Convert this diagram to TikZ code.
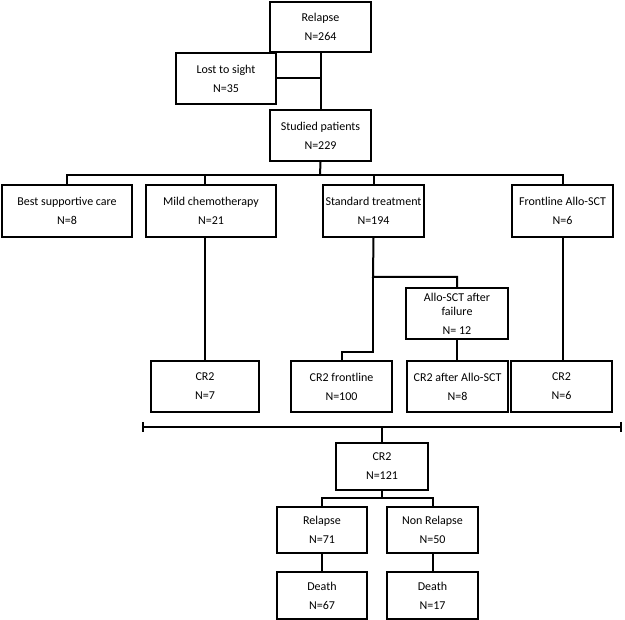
\documentclass[tikz,border=0pt]{standalone}
\usepackage{fontspec}
\setmainfont{Carlito}
\usetikzlibrary{arrows.meta}
\tikzset{
  box/.style={draw, line width=2pt, inner sep=0pt, align=center, font=\fontsize{12}{19}\selectfont},
  conn/.style={line width=2pt},
}
\begin{document}
\begin{tikzpicture}[x=1pt,y=-1pt]
\useasboundingbox (0,0) rectangle (625,620);
% level 0/1
\node[box, minimum width=101pt, minimum height=50pt] (relapse) at (320.5,27) {Relapse\\N=264};
\node[box, minimum width=100pt, minimum height=51pt] (lost) at (226,78.5) {Lost to sight\\N=35};
\node[box, minimum width=101pt, minimum height=51pt] (studied) at (320.5,135.5) {Studied patients\\N=229};
% level 2
\node[box, minimum width=130pt, minimum height=52pt] (bsc) at (67,211) {Best supportive care\\N=8};
\node[box, minimum width=130pt, minimum height=52pt] (mild) at (211,211) {Mild chemotherapy\\N=21};
\node[box, minimum width=101pt, minimum height=52pt] (std) at (373.5,211) {Standard treatment\\N=194};
\node[box, minimum width=101pt, minimum height=52pt] (front) at (562.5,211) {Frontline Allo-SCT\\N=6};
% level 3
\node[box, minimum width=102pt, minimum height=51pt] (allo) at (457,313.5) {Allo-SCT after\\[-5pt]failure\\N= 12};
\node[box, minimum width=108pt, minimum height=51pt] (cra) at (205,386.5) {CR2\\N=7};
\node[box, minimum width=101pt, minimum height=51pt] (crf) at (341.5,386.5) {CR2 frontline\\N=100};
\node[box, minimum width=101pt, minimum height=51pt] (crallo) at (457.5,386.5) {CR2 after Allo-SCT\\N=8};
\node[box, minimum width=101pt, minimum height=51pt] (crb) at (561.5,386.5) {CR2\\N=6};
% bottom
\node[box, minimum width=92pt, minimum height=47pt] (cr121) at (382,466.5) {CR2\\N=121};
\node[box, minimum width=90pt, minimum height=46pt] (rel71) at (322,530) {Relapse\\N=71};
\node[box, minimum width=91pt, minimum height=46pt] (nonrel) at (432.5,530) {Non Relapse\\N=50};
\node[box, minimum width=90pt, minimum height=47pt] (d67) at (322,595.5) {Death\\N=67};
\node[box, minimum width=91pt, minimum height=47pt] (d17) at (432.5,595.5) {Death\\N=17};
% connectors
\coordinate (b2) at (320,175);
\coordinate (s1) at (373,277);
\coordinate (s2) at (373,352);
\coordinate (bl) at (142,427);
\coordinate (br) at (622,427);
\coordinate (bm) at (382,427);
\coordinate (b5) at (382,498);
\draw[conn] (relapse.south) -- (studied.north);
\draw[conn] (lost.east) -- (lost.east -| relapse.south);
\draw[conn] (studied.south) -- (b2);
\draw[conn] (bsc.north) -- (bsc.north |- b2) -- (front.north |- b2) -- (front.north);
\draw[conn] ([xshift=-6pt]mild.north) -- ([xshift=-6pt]mild.north |- b2);
\draw[conn] (std.north) -- (std.north |- b2);
\draw[conn] ([xshift=-6pt]mild.south) -- (cra.north);
\draw[conn] (std.south) -- (s1) -| (allo.north);
\draw[conn] (s1) -- (s2) -| (crf.north);
\draw[conn] (allo.south) -- (allo.south |- crallo.north);
\draw[conn] (front.south) -- (front.south |- crb.north);
\draw[conn, {Bar[width=10pt]}-{Bar[width=10pt]}] (bl) -- (br);
\draw[conn] (bm) -- (cr121.north);
\draw[conn] (cr121.south) -- (b5);
\draw[conn] (rel71.north) -- (rel71.north |- b5) -- (nonrel.north |- b5) -- (nonrel.north);
\draw[conn] (rel71.south) -- (d67.north);
\draw[conn] (nonrel.south) -- (d17.north);
\end{tikzpicture}
\end{document}
